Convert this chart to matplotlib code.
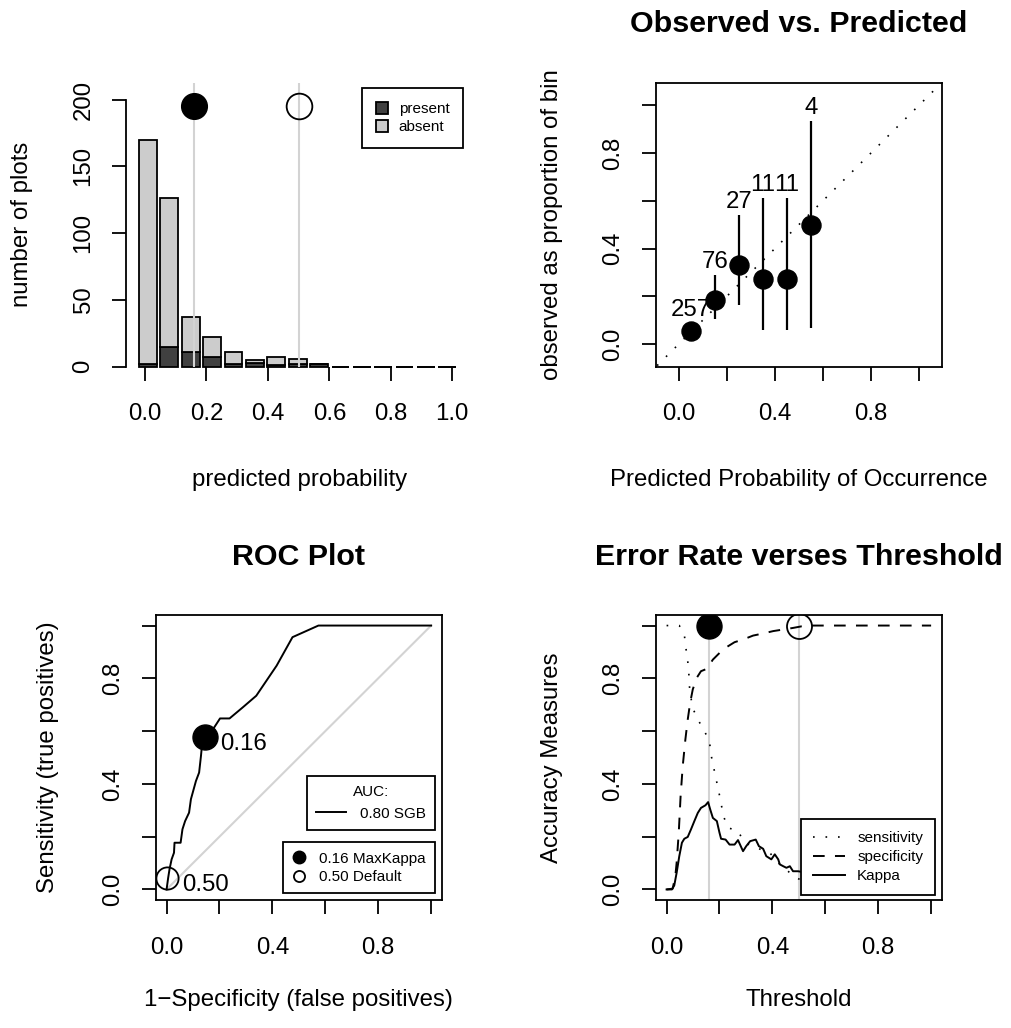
import numpy as np
import matplotlib
matplotlib.use('Agg')
import matplotlib.pyplot as plt
from matplotlib.lines import Line2D
from matplotlib.patches import Patch

plt.rcParams['font.family'] = ['Liberation Sans', 'DejaVu Sans']

# ---- data ----
# histogram of predicted probability, 15 bins, stacked
hist_present = [2, 15, 11, 7, 2, 3, 1, 2, 2, 0, 0, 0, 0, 0, 0]
hist_absent = [168, 111, 26, 15, 9, 2, 6, 4, 0, 0, 0, 0, 0, 0, 0]
hist_legend = ['present', 'absent']

# optimal thresholds
opt_thresh = [0.16, 0.50]
opt_names = ['MaxKappa', 'Default']

# calibration plot (bins of 0.1)
cal_mid = [0.05, 0.15, 0.25, 0.35, 0.45, 0.55]
cal_n = [257, 76, 27, 11, 11, 4]
cal_present = [14, 14, 9, 3, 3, 2]
cal_lower = [0.030, 0.104, 0.165, 0.060, 0.060, 0.068]
cal_upper = [0.090, 0.291, 0.540, 0.610, 0.610, 0.932]

# ROC curve
roc_fpr = [0.0, 0.006, 0.011, 0.019, 0.028, 0.030, 0.053, 0.060, 0.070, 0.085,
           0.092, 0.111, 0.123, 0.130, 0.136, 0.146, 0.180, 0.202, 0.238, 0.288,
           0.339, 0.416, 0.476, 0.574, 1.0]
roc_tpr = [0.0, 0.044, 0.076, 0.114, 0.139, 0.177, 0.177, 0.228, 0.259, 0.291,
           0.342, 0.411, 0.443, 0.506, 0.570, 0.576, 0.614, 0.648, 0.648, 0.690,
           0.734, 0.848, 0.956, 1.0, 1.0]
roc_opt_fpr = [0.146, 0.0025]
roc_opt_tpr = [0.576, 0.044]
auc_value = 0.80
model_name = 'SGB'

# accuracy measures vs threshold
sens_x = [0.0, 0.048, 0.067, 0.073, 0.080, 0.084, 0.086, 0.092, 0.101, 0.120,
          0.143, 0.162, 0.168, 0.177, 0.187, 0.197, 0.206, 0.215, 0.232, 0.270,
          0.295, 0.339, 0.390, 0.428, 0.459, 0.491, 0.52, 0.56, 0.62, 1.0]
sens_y = [1.0, 1.0, 0.966, 0.915, 0.865, 0.821, 0.773, 0.726, 0.682, 0.641,
          0.600, 0.562, 0.511, 0.467, 0.419, 0.372, 0.326, 0.278, 0.234, 0.221,
          0.177, 0.158, 0.139, 0.095, 0.069, 0.044, 0.03, 0.02, 0.0, 0.0]
spec_x = [0.0, 0.023, 0.033, 0.038, 0.046, 0.053, 0.061, 0.071, 0.080, 0.089,
          0.099, 0.114, 0.130, 0.152, 0.175, 0.200, 0.228, 0.257, 0.289, 0.327,
          0.365, 0.403, 0.441, 0.478, 0.510, 0.554, 1.0]
spec_y = [0.0, 0.003, 0.05, 0.101, 0.215, 0.354, 0.467, 0.568, 0.644, 0.707,
          0.758, 0.802, 0.827, 0.836, 0.871, 0.896, 0.919, 0.937, 0.947, 0.962,
          0.970, 0.979, 0.985, 0.991, 0.997, 1.0, 1.0]
kappa_x = [0.0, 0.020, 0.029, 0.038, 0.048, 0.058, 0.067, 0.080, 0.092, 0.105,
           0.118, 0.130, 0.147, 0.157, 0.165, 0.175, 0.190, 0.200, 0.206, 0.223,
           0.238, 0.257, 0.270, 0.289, 0.301, 0.316, 0.337, 0.349, 0.365, 0.377,
           0.396, 0.409, 0.422, 0.428, 0.441, 0.453, 0.466, 0.478, 0.497, 0.514,
           0.55, 0.60, 1.0]
kappa_y = [0.0, 0.0, 0.015, 0.063, 0.126, 0.177, 0.192, 0.199, 0.227, 0.259,
           0.290, 0.309, 0.319, 0.331, 0.303, 0.271, 0.259, 0.215, 0.192, 0.189,
           0.170, 0.170, 0.187, 0.145, 0.164, 0.183, 0.189, 0.164, 0.154, 0.126,
           0.114, 0.133, 0.114, 0.095, 0.088, 0.082, 0.088, 0.069, 0.069, 0.066,
           0.04, 0.0, 0.0]
acc_legend = ['sensitivity', 'specificity', 'Kappa']

# ---- styling ----
W, H = 1011, 1028
FS = 17.3
TITLE_FS = 21.9
LEG_FS = 11
LW = 1.3
DARK = '#404040'
LIGHT = '#CCCCCC'
GUIDE = '#D3D3D3'
DOTTED = (0, (1, 6.5))
DASHED = (0, (6, 5.3))


def px_rect(x0, y0, x1, y1):
    return [x0 / W, 1 - y1 / H, (x1 - x0) / W, (y1 - y0) / H]


def style_axes(ax, xticks, xlabels, yticks, ylabels, box=True):
    ax.set_xticks(xticks)
    ax.set_xticklabels(xlabels, fontsize=FS)
    ax.set_yticks(yticks)
    ax.set_yticklabels(ylabels, fontsize=FS, rotation=90, va='center')
    ax.tick_params(axis='both', direction='out', length=10.4, width=LW,
                   color='black')
    ax.tick_params(axis='x', pad=16)
    ax.tick_params(axis='y', pad=12.4)
    for s in ax.spines.values():
        s.set_linewidth(LW)
        s.set_visible(box)


def labels(ax, xlab, ylab, xoff, yoff):
    ax.set_xlabel(xlab, fontsize=FS, va='center')
    ax.set_ylabel(ylab, fontsize=FS, va='center')
    ax.xaxis.set_label_coords(0.5, xoff)
    ax.yaxis.set_label_coords(yoff, 0.5)


def title(ax, text, off):
    ax.text(0.5, 1 + off, text, transform=ax.transAxes, ha='center',
            va='center', fontsize=TITLE_FS, fontweight='bold', clip_on=False)


def boxed(leg):
    leg.get_frame().set_linewidth(LW)
    leg.get_frame().set_edgecolor('black')
    return leg


fig = plt.figure(figsize=(W / 100, H / 100), dpi=100)
fig.patch.set_facecolor('white')

ticks6 = [0.0, 0.2, 0.4, 0.6, 0.8, 1.0]
labs3 = ['0.0', '', '0.4', '', '0.8', '']

# ---- panel 1: histogram ----
ax1 = fig.add_axes(px_rect(126.2, 82.5, 472.8, 366.7))
n_bins = len(hist_present)
bar_w = 0.0580
bar_x0 = -0.0195
lefts = bar_x0 + np.arange(n_bins) * bar_w * 1.2
present = np.array(hist_present)
absent = np.array(hist_absent)
ax1.bar(lefts, present, width=bar_w, align='edge', color=DARK,
        edgecolor='black', linewidth=LW, clip_on=False, zorder=2)
ax1.bar(lefts, absent, bottom=present, width=bar_w, align='edge', color=LIGHT,
        edgecolor='black', linewidth=LW, clip_on=False, zorder=2)
for t in opt_thresh:
    ax1.axvline(t, color=GUIDE, lw=1.5, zorder=3)
ax1.plot(opt_thresh[0], 195, 'o', ms=18.5, color='black', zorder=4)
ax1.plot(opt_thresh[1], 195, 'o', ms=18.5, mfc='none', mec='black', mew=LW,
         zorder=4)
ax1.set_xlim(-0.0612, 1.0667)
ax1.set_ylim(0, 212.8)
style_axes(ax1, ticks6, ['0.0', '0.2', '0.4', '0.6', '0.8', '1.0'],
           [0, 50, 100, 150, 200], ['0', '50', '100', '150', '200'], box=False)
ax1.spines['left'].set_visible(True)
ax1.spines['left'].set_bounds(0, 200)
labels(ax1, 'predicted probability', 'number of plots', -0.398, -0.300)
leg = ax1.legend([Patch(facecolor=DARK, edgecolor='black', lw=LW),
                  Patch(facecolor=LIGHT, edgecolor='black', lw=LW)],
                 hist_legend, loc='upper right', bbox_to_anchor=(0.9726, 0.9796),
                 fontsize=LEG_FS, fancybox=False, framealpha=1,
                 handlelength=0.8, handleheight=0.8, handletextpad=0.7,
                 borderpad=0.9, labelspacing=0.25, borderaxespad=0)
leg._legend_box.sep = 0
boxed(leg)

# ---- panel 2: calibration ----
ax2 = fig.add_axes(px_rect(656, 82.7, 941.7, 366.7))
ax2.plot([-0.2, 1.2], [-0.2, 1.2], color='black', lw=1.2, ls=DOTTED)
obs = np.array(cal_present) / np.array(cal_n)
ax2.vlines(cal_mid, cal_lower, cal_upper, color='black', lw=1.6)
ax2.plot(cal_mid, obs, 'o', ms=13.7, color='black')
for x, up, n in zip(cal_mid, cal_upper, cal_n):
    ax2.annotate(str(n), (x, up), xytext=(0, 5), textcoords='offset points',
                 ha='center', va='baseline', fontsize=FS)
ax2.set_xlim(-0.094, 1.094)
ax2.set_ylim(-0.094, 1.094)
style_axes(ax2, ticks6, labs3, ticks6, labs3)
labels(ax2, 'Predicted Probability of Occurrence',
       'observed as proportion of bin', -0.398, -0.365)
title(ax2, 'Observed vs. Predicted', 58.7 / 284)

# ---- panel 3: ROC ----
ax3 = fig.add_axes(px_rect(156, 615, 441.7, 900))
ax3.plot([0, 1], [0, 1], color=GUIDE, lw=1.5)
ax3.plot(roc_fpr, roc_tpr, color='black', lw=1.4)
ax3.plot(roc_opt_fpr[0], roc_opt_tpr[0], 'o', ms=18, color='black', zorder=4)
ax3.plot(roc_opt_fpr[1], roc_opt_tpr[1], 'o', ms=16, mfc='none', mec='black',
         mew=LW, zorder=4)
for fx, ty, t in zip(roc_opt_fpr, roc_opt_tpr, opt_thresh):
    ax3.annotate('%.2f' % t, (fx, ty), xytext=(11, -5),
                 textcoords='offset points', ha='left', va='center',
                 fontsize=FS)
ax3.set_xlim(-0.04, 1.04)
ax3.set_ylim(-0.04, 1.04)
style_axes(ax3, ticks6, labs3, ticks6, labs3)
labels(ax3, '1\u2212Specificity (false positives)',
       'Sensitivity (true positives)', -0.351, -0.378)
title(ax3, 'ROC Plot', 58 / 285)
leg_auc = ax3.legend([Line2D([], [], color='black', lw=1.4)],
                     ['%.2f %s' % (auc_value, model_name)], title='AUC:',
                     title_fontsize=LEG_FS, loc='lower right',
                     bbox_to_anchor=(0.9766, 0.2456), fontsize=LEG_FS,
                     fancybox=False, framealpha=1, handlelength=2.0,
                     handletextpad=0.9, borderpad=0.6, borderaxespad=0)
boxed(leg_auc)
ax3.add_artist(leg_auc)
leg_opt = ax3.legend([Line2D([], [], ls='none', marker='o', ms=9, color='black'),
                      Line2D([], [], ls='none', marker='o', ms=8, mfc='none',
                             mec='black', mew=LW)],
                     ['%.2f %s' % (t, n) for t, n in zip(opt_thresh, opt_names)],
                     loc='lower right', bbox_to_anchor=(0.9766, 0.0235),
                     fontsize=LEG_FS, fancybox=False, framealpha=1,
                     handlelength=1.0, handletextpad=0.8, borderpad=0.6,
                     labelspacing=0.3, borderaxespad=0)
boxed(leg_opt)

# ---- panel 4: error rate vs threshold ----
ax4 = fig.add_axes(px_rect(656, 615, 941.7, 900))
for t in opt_thresh:
    ax4.axvline(t, color=GUIDE, lw=1.5, zorder=1)
ax4.plot(sens_x, sens_y, color='black', lw=1.2, ls=DOTTED)
ax4.plot(spec_x, spec_y, color='black', lw=1.4, ls=DASHED)
ax4.plot(kappa_x, kappa_y, color='black', lw=1.4)
ax4.plot(opt_thresh[0], 1.0, 'o', ms=18, color='black', zorder=4)
ax4.plot(opt_thresh[1], 1.0, 'o', ms=18, mfc='none', mec='black', mew=LW,
         zorder=4)
ax4.set_xlim(-0.04, 1.04)
ax4.set_ylim(-0.04, 1.04)
style_axes(ax4, ticks6, labs3, ticks6, labs3)
labels(ax4, 'Threshold', 'Accuracy Measures', -0.351, -0.365)
title(ax4, 'Error Rate verses Threshold', 58 / 285)
leg4 = ax4.legend([Line2D([], [], color='black', lw=1.2, ls=DOTTED),
                   Line2D([], [], color='black', lw=1.4, ls=DASHED),
                   Line2D([], [], color='black', lw=1.4)],
                  acc_legend, loc='lower right', bbox_to_anchor=(0.9766, 0.0175),
                  fontsize=LEG_FS, fancybox=False, framealpha=1,
                  handlelength=2.1, handletextpad=0.8, borderpad=0.78,
                  labelspacing=0.32, borderaxespad=0)
boxed(leg4)
leg4.set_zorder(5)

fig.savefig('out.png', dpi=100)
